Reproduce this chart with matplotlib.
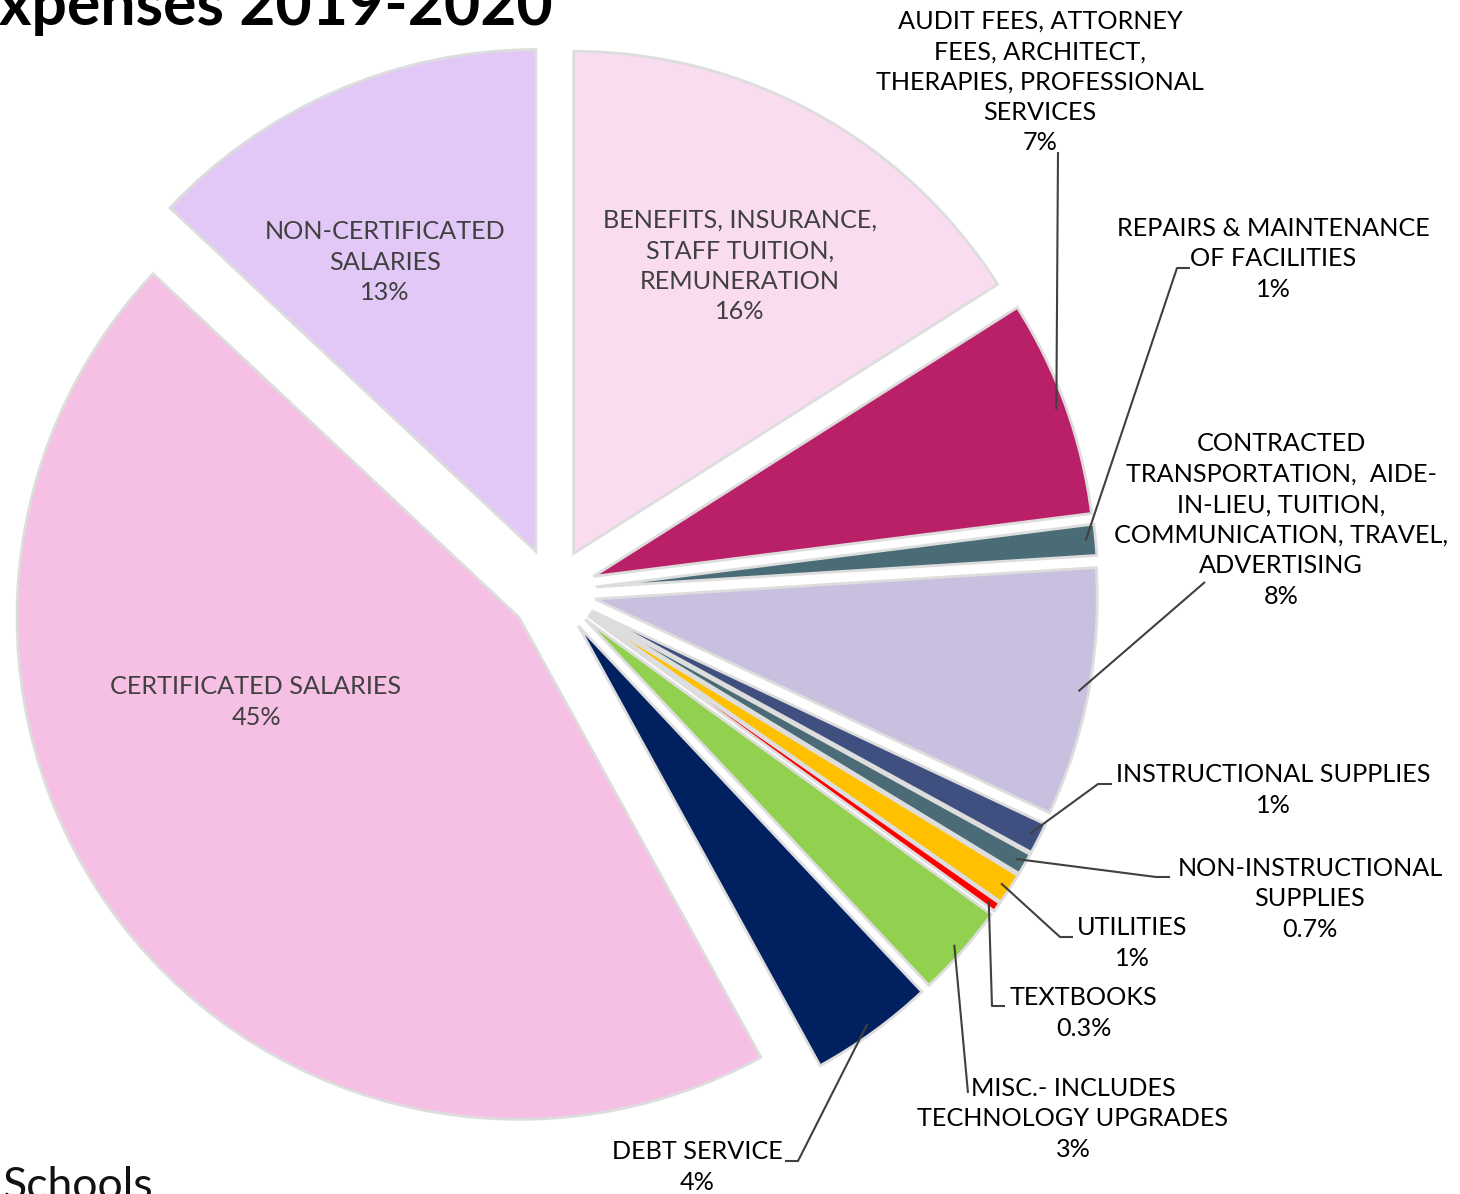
import numpy as np
import matplotlib
matplotlib.use("Agg")
import matplotlib.pyplot as plt

plt.rcParams['font.family'] = ['Lato', 'DejaVu Sans']

# expense categories, clockwise from 12 o'clock
labels = [
    "BENEFITS, INSURANCE,\nSTAFF TUITION,\nREMUNERATION",
    "AUDIT FEES, ATTORNEY\nFEES, ARCHITECT,\nTHERAPIES, PROFESSIONAL\nSERVICES",
    "REPAIRS & MAINTENANCE\nOF FACILITIES",
    "CONTRACTED\nTRANSPORTATION,  AIDE-\nIN-LIEU, TUITION,\nCOMMUNICATION, TRAVEL,\nADVERTISING",
    "INSTRUCTIONAL SUPPLIES",
    "NON-INSTRUCTIONAL\nSUPPLIES",
    "UTILITIES",
    "TEXTBOOKS",
    "MISC.- INCLUDES\nTECHNOLOGY UPGRADES",
    "DEBT SERVICE",
    "CERTIFICATED SALARIES",
    "NON-CERTIFICATED\nSALARIES",
]
shares = [16, 7, 1, 8, 1, 0.7, 1, 0.3, 3, 4, 45, 13]
pct_text = ["16%", "7%", "1%", "8%", "1%", "0.7%", "1%", "0.3%", "3%", "4%", "45%", "13%"]
colors = ["#FADCF0", "#BA2067", "#4A6C76", "#C9C0DF", "#3F5080", "#4B6C76",
          "#FFC000", "#FF0000", "#92D050", "#002060", "#F5C0E3", "#E2C8F6"]

W, H = 1460, 1194
fig = plt.figure(figsize=(W / 100, H / 100), dpi=100)
ax = fig.add_axes([0, 0, 1, 1])

def P(x, y):
    # image pixel coords (y down) -> data coords
    return x, H - y

R = 502
cx, cy = P(553, 591)
wedges, _ = ax.pie(shares, colors=colors, startangle=90, counterclock=False,
                   radius=R, center=(cx, cy), explode=[43] * len(shares),
                   wedgeprops=dict(edgecolor="#DDDDDD", linewidth=2))
ax.set_xlim(0, W)
ax.set_ylim(0, H)
ax.set_aspect("equal")
ax.axis("off")

# label block centres and leader elbows (image coords); None = inside label
layout = [
    ((740, 266), None),
    ((1040, 82), [(1058, 152)]),
    ((1273, 259), [(1190, 268), (1177, 268)]),
    ((1281, 520), [(1205, 582)]),
    ((1273, 790), [(1112, 784), (1098, 784)]),
    ((1310, 899), [(1170, 877), (1156, 877)]),
    ((1132, 943), [(1073, 937), (1060, 937)]),
    ((1084, 1013), [(1005, 1006), (992, 1006)]),
    ((1073, 1119), [(968, 1093)]),
    ((697, 1167), [(785, 1161), (798, 1161)]),
    ((256, 702), None),
    ((385, 262), None),
]

for w, lab, pct, (pos, elbow) in zip(wedges, labels, pct_text, layout):
    inside = elbow is None
    ax.text(*P(*pos), lab + "\n" + pct, ha="center", va="center",
            fontsize=18.2, linespacing=1.39,
            color="#404040" if inside else "black")
    if not inside:
        mid = np.deg2rad((w.theta1 + w.theta2) / 2)
        ax0 = w.center[0] + 0.98 * w.r * np.cos(mid)
        ay0 = w.center[1] + 0.98 * w.r * np.sin(mid)
        pts = [P(*p) for p in elbow] + [(ax0, ay0)]
        xs, ys = zip(*pts)
        ax.plot(xs, ys, color="#404040", lw=1.5, solid_capstyle="butt")

ax.text(*P(553, 25), "Expenses 2019-2020", ha="right", va="baseline",
        fontsize=45, fontweight="bold", color="black")
ax.text(*P(2, 1199), "Schools", ha="left", va="baseline",
        fontsize=32, color="#111111")

fig.savefig("out.png", dpi=100)
